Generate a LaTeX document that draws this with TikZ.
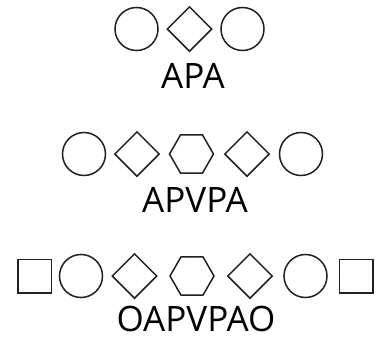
\documentclass[tikz,border=0pt]{standalone}
\usepackage{fontspec}
\setmainfont{Open Sans}
\usetikzlibrary{shapes.geometric}
\definecolor{ink}{HTML}{231F20}
\definecolor{griddot}{HTML}{ECECEC}

\begin{document}
\begin{tikzpicture} [x = 1pt, y = -1pt,
		unit/.style = {draw = ink,
			line width = 1.5pt,
			inner sep = 0pt},
		ball/.style = {unit, circle, minimum size = 43pt},
		gem/.style = {unit, diamond, minimum size = 45pt},
		hex/.style = {unit, regular polygon, regular polygon sides = 6, minimum size = 44pt},
		box/.style = {unit, rectangle, minimum size = 33.5pt},
		word/.style = {anchor = base, text = black, font = \fontsize{35}{35}\selectfont}]

	\useasboundingbox (0,0) rectangle (376,343);

	% dotted background
	\foreach \j in {0,...,42} {
		\pgfmathsetmacro{\off}{mod(\j,2)*8}
		\foreach \i in {0,...,23}
			\fill [griddot] (16*\i+\off, 8*\j+1) rectangle ++(1.4,1.4);
	}

	% APA
	\node (a1) at (136.5,29) [ball] {};
	\node (p1) at (189.5,29) [gem] {};
	\node (a2) at (242.5,29) [ball] {};
	\node (apa) at (193,88) [word] {APA};

	% APVPA
	\node (b1) at (84,154) [ball] {};
	\node (q1) at (137,154) [gem] {};
	\node (v1) at (191.5,154) [hex] {};
	\node (q2) at (247,154) [gem] {};
	\node (b2) at (301,154) [ball] {};
	\node (apvpa) at (195,212.5) [word] {APVPA};

	% OAPVPAO
	\node (o1) at (34.5,276) [box] {};
	\node (c1) at (81,276) [ball] {};
	\node (r1) at (134.5,276) [gem] {};
	\node (v2) at (192,276) [hex] {};
	\node (r2) at (250,276) [gem] {};
	\node (c2) at (305.5,276) [ball] {};
	\node (o2) at (356,276) [box] {};
	\node (oapvpao) at (196,331) [word] {OAPVPAO};

\end{tikzpicture}
\end{document}
